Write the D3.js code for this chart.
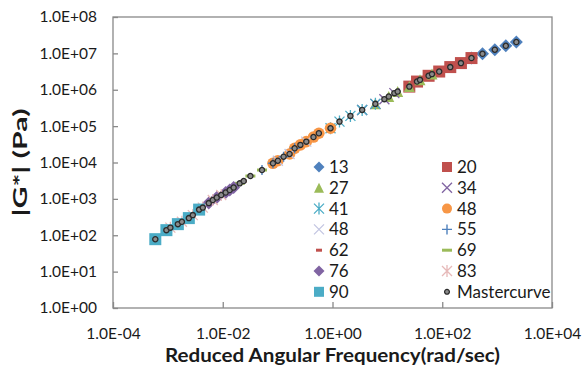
<!DOCTYPE html>
<html>
<head>
<meta charset="utf-8">
<script src="https://cdn.jsdelivr.net/npm/d3@7"></script>
<style>
  body { margin: 0; background: #fff; }
  svg { display: block; font-family: Lato, "Liberation Sans", sans-serif; }
</style>
</head>
<body>
<div id="chart"></div>
<script>
// temperatures (legend labels), in drawing order
const temps = ["13", "20", "27", "34", "41", "48", "48", "55", "62", "69", "76", "83", "90"];
const markerTypes = ["diamond", "square", "triangle", "x", "asterisk", "circle", "x", "plus", "dashShort", "dashLong", "diamond", "asterisk", "square"];
const colors = ["#4F81BD", "#C0504D", "#9BBB59", "#8064A2", "#4BACC6", "#F79646", "#C3C6E2", "#4F81BD", "#C0504D", "#9BBB59", "#8064A2", "#E6B9B8", "#4BACC6"];

// reduced angular frequency (rad/s) per temperature
const freqs = [
  [341, 541, 908, 1440, 2240],
  [25.1, 34.7, 56.4, 88, 140, 219, 341],
  [6.05, 10.6, 15.4, 25.1, 39.3, 65],
  [3.47, 6.05, 8.82, 13.4],
  [0.92, 1.34, 2.12, 3.47, 6.05],
  [0.0822, 0.101, 0.165, 0.204, 0.26, 0.333, 0.45, 0.564, 0.92],
  [0.101, 0.165, 0.333],
  [0.0519, 0.0822, 0.1285, 0.204],
  [0.0158, 0.0241, 0.0519],
  [0.0204, 0.0319, 0.0519],
  [0.00556, 0.00778, 0.0113, 0.0134, 0.0158],
  [0.00111, 0.0018, 0.00285, 0.00433, 0.00658, 0.00939],
  [0.00059, 0.00094, 0.00152, 0.00241, 0.00371]
];
// |G*| (Pa) per temperature
const moduli = [
  [7.43e6, 9.75e6, 1.26e7, 1.62e7, 2.05e7],
  [1.22e6, 1.68e6, 2.42e6, 3.17e6, 4.2e6, 5.41e6, 7.43e6],
  [409000, 650000, 892000, 1.22e6, 1.87e6, 2.69e6],
  [279000, 409000, 551000, 806000],
  [87500, 133000, 191000, 279000, 409000],
  [9506, 11210, 17150, 24600, 30500, 37400, 50000, 63700, 87500],
  [11210, 17150, 37400],
  [6213, 9506, 14450, 24600],
  [2047, 3093, 6213],
  [2673, 4247, 6213],
  [766, 1086, 1492, 1747, 2047],
  [162, 234, 358, 576, 927, 1273],
  [78, 138, 202, 296, 507]
];

// master curve
const masterFreq = [0.00059, 0.00094, 0.00111, 0.00152, 0.0018, 0.00241, 0.00285, 0.00371, 0.00433, 0.00556,
  0.00658, 0.00778, 0.00939, 0.0113, 0.0134, 0.0158, 0.0204, 0.0241, 0.0319, 0.0519,
  0.0822, 0.101, 0.1285, 0.165, 0.204, 0.26, 0.333, 0.45, 0.564, 0.92, 1.34, 2.12,
  3.47, 6.05, 8.82, 10.6, 13.4, 15.4, 25.1, 34.7, 39.3, 56.4,
  65, 88, 140, 219, 341, 541, 908, 1440, 2240];
const masterG = [78, 138, 162, 202, 234, 296, 358, 507, 576, 766,
  927, 1086, 1273, 1492, 1747, 2047, 2673, 3093, 4247, 6213,
  9506, 11210, 14450, 17150, 24600, 30500, 37400, 50000, 63700, 87500, 133000, 191000,
  279000, 409000, 551000, 650000, 806000, 892000, 1.22e6, 1.68e6, 1.87e6, 2.42e6,
  2.69e6, 3.17e6, 4.2e6, 5.41e6, 7.43e6, 9.75e6, 1.26e7, 1.62e7, 2.05e7];

const xTicks = [1e-4, 1e-2, 1, 1e2, 1e4];
const yTicks = [1, 10, 100, 1e3, 1e4, 1e5, 1e6, 1e7, 1e8];

const width = 583, height = 372;
const margin = { top: 17, right: 31, bottom: 64, left: 113 };

const svg = d3.select("#chart").append("svg")
  .attr("width", width)
  .attr("height", height);

const x = d3.scaleLog().domain([1e-4, 1e4]).range([margin.left, width - margin.right]);
const y = d3.scaleLog().domain([1, 1e8]).range([height - margin.bottom, margin.top]);

const sci = d => {
  const e = Math.round(Math.log10(d));
  return "1.0E" + (e < 0 ? "-" : "+") + String(Math.abs(e)).padStart(2, "0");
};

// plot border
svg.append("rect")
  .attr("x", x(1e-4)).attr("y", y(1e8))
  .attr("width", x(1e4) - x(1e-4)).attr("height", y(1) - y(1e8))
  .attr("fill", "none").attr("stroke", "#898989").attr("stroke-width", 1.3);

const xAxis = svg.append("g")
  .attr("transform", `translate(0,${y(1)})`)
  .call(d3.axisBottom(x).tickValues(xTicks).tickFormat(sci).tickSizeInner(-6).tickSizeOuter(0).tickPadding(20));
const yAxis = svg.append("g")
  .attr("transform", `translate(${x(1e-4)},0)`)
  .call(d3.axisLeft(y).tickValues(yTicks).tickFormat(sci).tickSizeInner(-5).tickSizeOuter(0).tickPadding(16));

[xAxis, yAxis].forEach(a => {
  a.select(".domain").remove();
  a.selectAll(".tick line").attr("stroke", "#898989").attr("stroke-width", 1.3);
  a.selectAll(".tick text").attr("font-size", 15.5).attr("fill", "#1a1a1a")
    .attr("font-family", "Lato, sans-serif");
});

function drawMarker(g, type, color, s) {
  switch (type) {
    case "diamond":
      g.append("path").attr("d", `M0,${-s}L${s},0L0,${s}L${-s},0Z`).attr("fill", color);
      break;
    case "square":
      g.append("rect").attr("x", -s).attr("y", -s).attr("width", 2 * s).attr("height", 2 * s).attr("fill", color);
      break;
    case "triangle":
      g.append("path").attr("d", `M0,${-s}L${s},${s}L${-s},${s}Z`).attr("fill", color);
      break;
    case "circle":
      g.append("circle").attr("r", s).attr("fill", color);
      break;
    case "x":
      g.append("path").attr("d", `M${-s},${-s}L${s},${s}M${-s},${s}L${s},${-s}`)
        .attr("stroke", color).attr("stroke-width", 1.3).attr("fill", "none");
      break;
    case "asterisk":
      g.append("path").attr("d", `M${-s},${-s}L${s},${s}M${-s},${s}L${s},${-s}M0,${-s * 1.2}L0,${s * 1.2}`)
        .attr("stroke", color).attr("stroke-width", 1.3).attr("fill", "none");
      break;
    case "plus":
      g.append("path").attr("d", `M${-s},0L${s},0M0,${-s}L0,${s}`)
        .attr("stroke", color).attr("stroke-width", 1.4).attr("fill", "none");
      break;
    case "dashShort":
      g.append("path").attr("d", `M${-s * 0.6},0L${s * 0.6},0`)
        .attr("stroke", color).attr("stroke-width", 3).attr("fill", "none");
      break;
    case "dashLong":
      g.append("path").attr("d", `M${-s},0L${s},0`)
        .attr("stroke", color).attr("stroke-width", 3).attr("fill", "none");
      break;
    case "dot":
      g.append("circle").attr("r", s).attr("fill", "#8a8a8a").attr("stroke", "#2b2b2b").attr("stroke-width", 1.3);
      break;
  }
}

const sizes = { diamond: 6.5, square: 6, triangle: 5.5, circle: 5.8, x: 5, asterisk: 5, plus: 5, dashShort: 5, dashLong: 5 };

// series
temps.forEach((t, i) => {
  const pts = freqs[i].map((f, j) => ({ f: f, g: moduli[i][j] }));
  svg.append("g").selectAll("g")
    .data(pts)
    .enter()
    .append("g")
    .attr("transform", d => `translate(${x(d.f)},${y(d.g)})`)
    .each(function () { drawMarker(d3.select(this), markerTypes[i], colors[i], sizes[markerTypes[i]]); });
});

// master curve points
svg.append("g").selectAll("g")
  .data(masterFreq.map((f, j) => ({ f: f, g: masterG[j] })))
  .enter()
  .append("g")
  .attr("transform", d => `translate(${x(d.f)},${y(d.g)})`)
  .each(function () { drawMarker(d3.select(this), "dot", "#555", 2.6); });

// legend
const legendItems = temps.map((t, i) => ({ label: t, type: markerTypes[i], color: colors[i] }))
  .concat([{ label: "Mastercurve", type: "dot", color: "#555" }]);
const legend = svg.append("g");
legendItems.forEach((d, i) => {
  const col = i % 2, row = Math.floor(i / 2);
  const gx = col === 0 ? 319 : 447;
  const gy = 167 + row * 20.8;
  const m = legend.append("g").attr("transform", `translate(${gx},${gy})`);
  const s = d.type === "dot" ? 2.4 : (d.type === "diamond" ? 5.5 : 5);
  drawMarker(m, d.type, d.color, s);
  legend.append("text")
    .attr("x", gx + 10).attr("y", gy)
    .attr("dy", "0.35em")
    .attr("font-size", 17)
    .attr("fill", "#1a1a1a")
    .text(d.label);
});

// axis titles
svg.append("text")
  .attr("x", (x(1e-4) + x(1e4)) / 2)
  .attr("y", 362)
  .attr("text-anchor", "middle")
  .attr("font-weight", "bold")
  .attr("font-size", 19)
  .attr("textLength", 335)
  .attr("lengthAdjust", "spacingAndGlyphs")
  .attr("fill", "#1a1a1a")
  .text("Reduced Angular Frequency(rad/sec)");

svg.append("text")
  .attr("transform", `translate(27,${(y(1) + y(1e8)) / 2}) rotate(-90)`)
  .attr("text-anchor", "middle")
  .attr("font-weight", "bold")
  .attr("font-size", 19)
  .attr("textLength", 108)
  .attr("lengthAdjust", "spacingAndGlyphs")
  .attr("fill", "#1a1a1a")
  .text("|G*| (Pa)");
</script>
</body>
</html>
